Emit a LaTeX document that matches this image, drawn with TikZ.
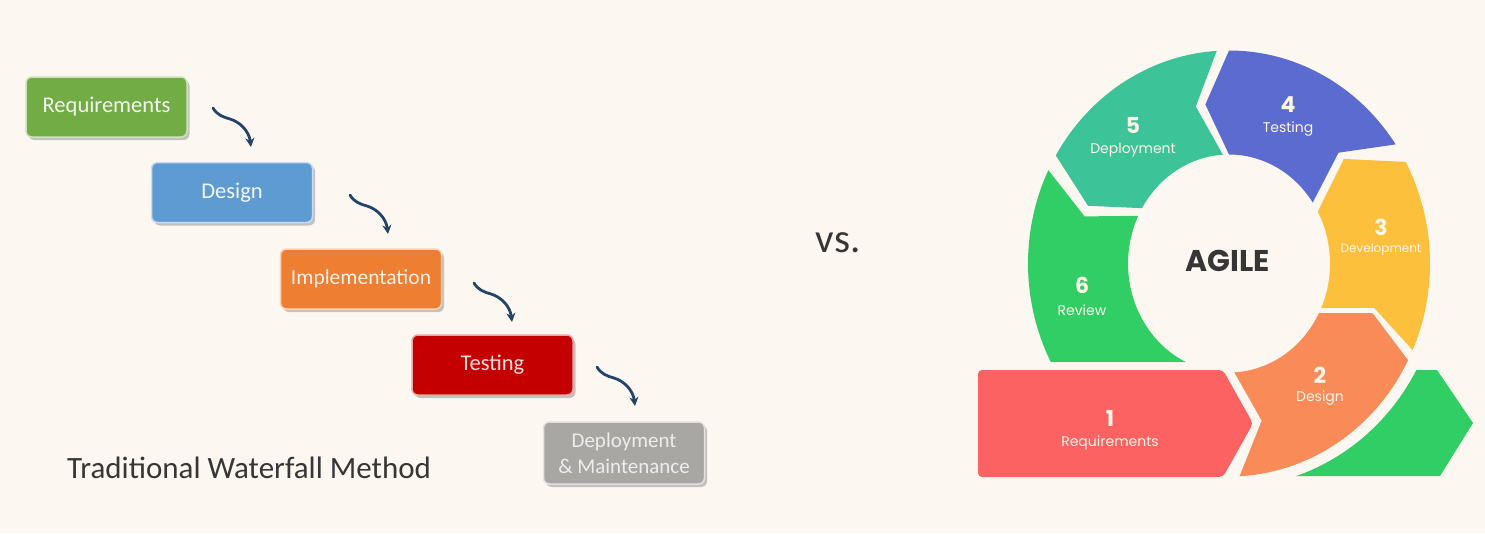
\documentclass[tikz,border=0pt]{standalone}
\usepackage{fontspec}
\setmainfont{Carlito}
\newfontfamily\pop{Poppins}
\usetikzlibrary{shadows,arrows.meta}
\definecolor{bg}{HTML}{FCF8F1}
\definecolor{wfgreen}{HTML}{71AC45}
\definecolor{wfblue}{HTML}{5E9BD3}
\definecolor{wforange}{HTML}{EE7E32}
\definecolor{wfred}{HTML}{C40000}
\definecolor{wfgray}{HTML}{A9A7A3}
\definecolor{wavec}{HTML}{24456A}
\definecolor{agred}{HTML}{FC6262}
\definecolor{agorange}{HTML}{F98B58}
\definecolor{agyellow}{HTML}{FDC03C}
\definecolor{agblue}{HTML}{5C6BD0}
\definecolor{agteal}{HTML}{3CC398}
\definecolor{aggreen}{HTML}{31CE66}
\definecolor{agtext}{HTML}{FFF5E8}
\definecolor{darktext}{HTML}{363636}
\newcommand{\Pout}[1]{({201*cos(#1)},{213*sin(#1)})}
\newcommand{\Pmid}[1]{({151*cos(#1)},{161*sin(#1)})}
\newcommand{\Pinn}[1]{({101*cos(#1)},{109*sin(#1)})}
\newcommand{\ringseg}[5]{% color, start, notch, end, tip
  \fill[#1] \Pout{#2} arc[start angle=#2, end angle=#4, x radius=201, y radius=213]
    -- \Pmid{#5} -- \Pinn{#4}
    arc[start angle=#4, end angle=#2, x radius=101, y radius=109]
    -- \Pmid{#3} -- cycle;}
\tikzset{
  wf/.style={rounded corners=6pt, minimum width=161pt, minimum height=60pt,
    fill=#1, draw=#1!35!white, line width=1.5pt, inner sep=0pt,
    font=\fontsize{22.5}{27}\selectfont,
    drop shadow={shadow xshift=2.5pt, shadow yshift=-3pt, fill=black, opacity=0.22}},
  wave/.style={draw=wavec, line width=2.8pt, line cap=round,
    -{Stealth[length=9pt,width=9pt]}},
  agnum/.style={text=agtext, font=\pop\bfseries\fontsize{22}{22}\selectfont, inner sep=0pt},
  aglab/.style={text=agtext, font=\pop\fontsize{14}{14}\selectfont, inner sep=0pt}
}
\begin{document}
\begin{tikzpicture}[x=1pt,y=-1pt]
\fill[bg] (0,0) rectangle (1485,533);
\useasboundingbox (0,0) rectangle (1485,533);

% ---------------- waterfall ----------------
\node[wf=wfgreen, text=white!92!wfgreen] (req) at (106.5,107) {Requirements};
\node[wf=wfblue, text=white!92!wfblue] (des) at (232,192.5) {Design};
\node[wf=wforange, text=white!90!wforange, font=\fontsize{21.5}{26}\selectfont] (imp) at (361,279) {Implementation};
\node[wf=wfred, text=white!88!wfred] (tst) at (492.5,365) {Testing};
\node[wf=wfgray, text=white!80!wfgray, minimum height=62pt, align=center,
  font=\fontsize{21}{26}\selectfont] (dep) at (624,453)
  {Deployment\\\& Maintenance};

\foreach \n/\x/\y in {1/213/108, 2/350/195, 3/474/283, 4/597/367}{
  \begin{scope}[shift={(\x,\y)}]
    \coordinate (w\n s) at (0,0);
    \coordinate (w\n e) at (38,39);
    \draw[wave] (w\n s) .. controls (4,7) and (10,9) .. (17,11)
      .. controls (27,14) and (36,23) .. (w\n e);
  \end{scope}
}

\node[anchor=base west, text=darktext, font=\fontsize{31}{31}\selectfont, inner sep=0pt]
  (wftitle) at (67,478) {Traditional Waterfall Method};

\node[anchor=base, text=darktext, font=\fontsize{41}{41}\selectfont, inner sep=0pt]
  (vs) at (838,252) {vs.};

% ---------------- agile ring ----------------
\begin{scope}[shift={(1229,263.5)}, yscale=-1]
  \ringseg{agorange}{-87}{-77.5}{-27}{-18}
  \ringseg{agyellow}{-24}{-16}{28.5}{40.5}
  \ringseg{agblue}{34}{43.5}{90}{99}
  \ringseg{agteal}{93.5}{102.7}{149.5}{159}
  % review: flat bottom cut
  \fill[aggreen] \Pout{154} arc[start angle=154, end angle=207.5, x radius=201, y radius=213]
    -- (-43.3,-98.5) arc[start angle=244.6, end angle=154, x radius=101, y radius=109]
    -- \Pmid{163} -- cycle;
  % green arrow at bottom right
  \fill[aggreen] ({213*cos(-71.6)},-212.5)
    arc[start angle=-71.6, end angle=-28.4, x radius=213, y radius=224]
    -- (208,-106.5) -- (244,-159.5) -- (211,-212.5) -- cycle;
\end{scope}
% requirements arrow
\fill[agred, rounded corners=4pt] (978,370) -- (1223,370) -- (1253,423.5) -- (1223,477) -- (978,477) -- cycle;

\node[text=darktext, font=\pop\bfseries\fontsize{30}{30}\selectfont] (agile) at (1228,261) {AGILE};

\node[agnum] (n1) at (1110,418) {1};
\node[aglab] (l1) at (1110,443) {Requirements};
\node[agnum] (n2) at (1320,375) {2};
\node[aglab] (l2) at (1320,398) {Design};
\node[agnum] (n3) at (1381,227) {3};
\node[aglab, font=\pop\fontsize{12}{12}\selectfont] (l3) at (1381,250) {Development};
\node[agnum] (n4) at (1288,105) {4};
\node[aglab] (l4) at (1288,129) {Testing};
\node[agnum] (n5) at (1133,125) {5};
\node[aglab] (l5) at (1133,150) {Deployment};
\node[agnum] (n6) at (1082,285) {6};
\node[aglab] (l6) at (1082,310) {Review};
\end{tikzpicture}
\end{document}
